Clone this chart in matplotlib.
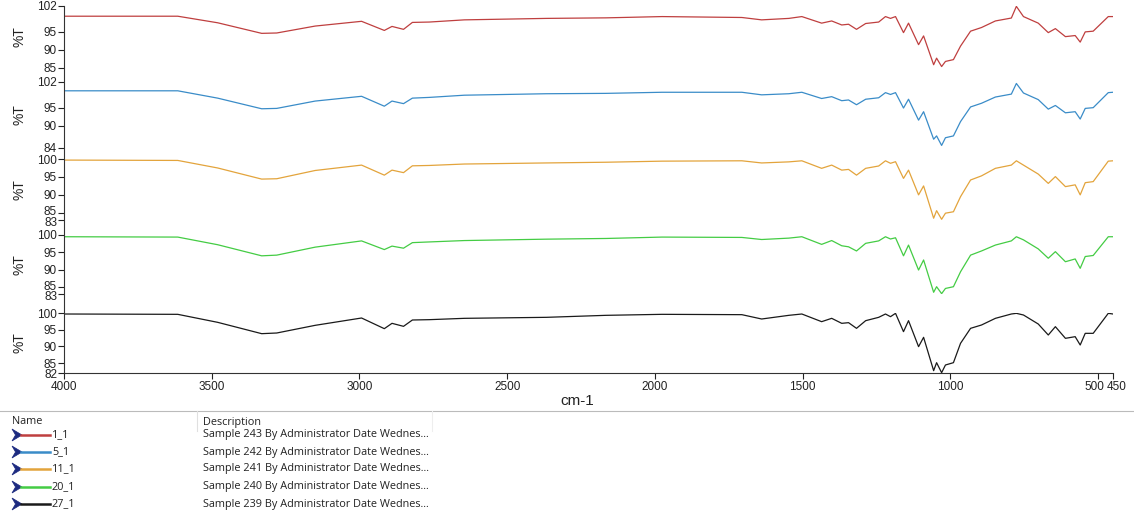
import matplotlib
matplotlib.use("Agg")
import matplotlib.pyplot as plt
from matplotlib.patches import Polygon
from matplotlib.lines import Line2D
import matplotlib.transforms as mtransforms

plt.rcParams['font.family'] = ['Liberation Sans', 'DejaVu Sans']

# ---------------- data ----------------
wavenumber = [4000, 3615, 3480, 3331, 3280, 3150, 2993, 2916, 2890, 2851, 2821, 2764,
              2645, 2368, 2166, 1976, 1706, 1639, 1547, 1503, 1436, 1402, 1368, 1345,
              1318, 1287, 1243, 1220, 1203, 1186, 1159, 1142, 1108, 1091, 1057, 1047,
              1030, 1017, 990, 966, 932, 895, 848, 794, 777, 753, 703, 669, 645, 611,
              578, 561, 544, 517, 466, 450]

t_1_1 = [99.2, 99.2, 97.4, 94.5, 94.6, 96.5, 97.8, 95.3, 96.4, 95.6, 97.5, 97.6,
         98.2, 98.6, 98.75, 99.1, 98.85, 98.2, 98.6, 99.1, 97.3, 97.9, 96.8, 97.0,
         95.6, 97.2, 97.6, 99.1, 98.6, 99.1, 94.7, 97.3, 91.4, 93.8, 85.9, 87.7,
         85.4, 86.8, 87.3, 91.0, 95.1, 96.1, 97.9, 98.7, 101.9, 99.1, 97.3, 94.7,
         95.8, 93.6, 93.9, 92.1, 94.9, 95.1, 99.1, 99.1]

t_5_1 = [99.6, 99.6, 97.6, 94.7, 94.8, 96.8, 98.1, 95.4, 96.8, 96.1, 97.6, 97.8,
         98.4, 98.8, 98.9, 99.2, 99.2, 98.5, 98.8, 99.2, 97.5, 98.0, 96.9, 97.1,
         95.8, 97.3, 97.7, 99.1, 98.6, 99.1, 94.9, 97.3, 91.6, 93.9, 86.4, 87.3,
         84.7, 86.8, 87.3, 91.2, 95.2, 96.2, 97.9, 98.7, 101.6, 99.0, 97.2, 94.6,
         95.6, 93.6, 93.9, 91.9, 94.8, 95.0, 99.1, 99.2]

t_11_1 = [99.7, 99.6, 97.5, 94.4, 94.5, 96.8, 98.3, 95.5, 96.9, 96.2, 98.1, 98.2,
          98.6, 98.9, 99.1, 99.4, 99.5, 98.9, 99.2, 99.5, 97.4, 98.3, 96.9, 97.1,
          95.5, 97.4, 98.05, 99.5, 98.8, 99.25, 94.6, 96.9, 90.0, 92.5, 83.5, 85.6,
          83.2, 84.9, 85.3, 89.5, 94.15, 95.3, 97.4, 98.3, 99.5, 98.3, 95.8, 93.2,
          95.1, 92.3, 92.8, 90.0, 93.4, 93.7, 99.4, 99.5]

t_20_1 = [99.5, 99.4, 97.2, 94.0, 94.2, 96.5, 98.3, 95.8, 96.8, 96.2, 97.8, 98.0,
          98.4, 98.8, 99.0, 99.4, 99.3, 98.7, 99.1, 99.5, 97.3, 98.4, 96.9, 96.6,
          95.4, 97.6, 98.3, 99.5, 98.85, 99.2, 94.0, 97.1, 89.9, 92.8, 83.5, 85.1,
          83.1, 84.6, 85.1, 89.4, 94.2, 95.4, 97.1, 98.3, 99.5, 98.6, 96.0, 93.3,
          95.2, 92.3, 93.1, 90.4, 93.8, 94.1, 99.5, 99.5]

t_27_1 = [99.7, 99.6, 97.2, 93.8, 94.0, 96.3, 98.5, 95.3, 96.9, 96.0, 97.9, 98.0,
          98.4, 98.7, 99.3, 99.6, 99.5, 98.2, 99.3, 99.7, 97.4, 98.4, 96.9, 97.1,
          95.4, 97.7, 98.7, 99.7, 98.9, 99.9, 94.4, 97.7, 89.9, 92.7, 82.7, 85.1,
          82.1, 84.4, 85.1, 90.9, 95.4, 96.4, 98.4, 99.7, 99.9, 99.4, 96.7, 93.4,
          95.9, 92.4, 92.9, 90.4, 93.9, 93.9, 99.9, 99.7]

names = ["1_1", "5_1", "11_1", "20_1", "27_1"]
descriptions = ["Sample 243 By Administrator Date Wednes...",
                "Sample 242 By Administrator Date Wednes...",
                "Sample 241 By Administrator Date Wednes...",
                "Sample 240 By Administrator Date Wednes...",
                "Sample 239 By Administrator Date Wednes..."]
series = [t_1_1, t_5_1, t_11_1, t_20_1, t_27_1]
y_ranges = [(85, 102), (84, 102), (83, 100), (83, 100), (82, 100)]
y_ticks = [[85, 90, 95, 102], [84, 90, 95, 102], [83, 85, 90, 95, 100],
           [83, 85, 90, 95, 100], [82, 85, 90, 95, 100]]
x_ticks = [4000, 3500, 3000, 2500, 2000, 1500, 1000, 500, 450]

colors = ['#bf3f3f', '#3a8cc8', '#e3a43c', '#44cc44', '#1a1a1a']

# ---------------- layout ----------------
W, H = 1134, 526
fig = plt.figure(figsize=(W / 100, H / 100), dpi=100)

def fx(px):
    return px / W

def fy(py):
    return 1 - py / H

def shift(dx_px, dy_px):
    return mtransforms.ScaledTranslation(dx_px / 100, dy_px / 100, fig.dpi_scale_trans)

x_left, x_right = 64, 1113
panel_px = [(6, 68), (82, 148), (159, 220), (235, 294), (313, 373)]

tick_color = '#222222'
for i, (top, bot) in enumerate(panel_px):
    ax = fig.add_axes([fx(x_left), fy(bot), fx(x_right - x_left), (bot - top) / H])
    ax.plot(wavenumber, series[i], color=colors[i], lw=0.9)
    ax.set_xlim(4000, 450)
    ax.set_ylim(*y_ranges[i])
    ax.set_yticks(y_ticks[i])
    ax.set_yticklabels([str(v) for v in y_ticks[i]])
    for s in ['top', 'right', 'left']:
        ax.spines[s].set_visible(False)
    ax.tick_params(axis='y', direction='out', length=4, width=0.8, colors=tick_color,
                   labelsize=8.5, pad=1)
    ax.patch.set_alpha(0)
    # nudge crowded bottom labels apart (83 / 85)
    if y_ticks[i][0] == 83:
        ylbls = ax.get_yticklabels()
        ylbls[0].set_transform(ylbls[0].get_transform() + shift(0, -2))
        ylbls[1].set_transform(ylbls[1].get_transform() + shift(0, 2))
    if i < 4:
        ax.spines['bottom'].set_visible(False)
        ax.set_xticks([])
    else:
        ax.spines['bottom'].set_color('#333333')
        ax.spines['bottom'].set_linewidth(0.8)
        ax.set_xticks(x_ticks)
        ax.set_xticklabels([str(v) for v in x_ticks])
        ax.tick_params(axis='x', direction='out', length=4, width=0.8, colors=tick_color,
                       labelsize=8.5, pad=2)
        lbls = ax.get_xticklabels()
        lbls[-2].set_transform(lbls[-2].get_transform() + shift(-4, 0))
        lbls[-1].set_transform(lbls[-1].get_transform() + shift(4, 0))
    ax.set_ylabel('%T', fontsize=10, color='#222222')
    ax.yaxis.set_label_coords(-0.036, 0.5)

# continuous left spine
fig.add_artist(Line2D([fx(x_left), fx(x_left)], [fy(6), fy(373)], color='#333333',
                      lw=0.8, transform=fig.transFigure))

fig.text(fx(577), fy(401), 'cm-1', fontsize=11, color='#222222', ha='center', va='center')

# ---------------- legend table ----------------
fig.add_artist(Line2D([0, 1], [fy(411), fy(411)], color='#bbbbbb', lw=0.8,
                      transform=fig.transFigure))
fig.add_artist(Line2D([fx(197), fx(197)], [fy(411), fy(431)], color='#e0e0e0', lw=0.8,
                      transform=fig.transFigure))
fig.add_artist(Line2D([fx(432), fx(432)], [fy(411), fy(431)], color='#eeeeee', lw=0.8,
                      transform=fig.transFigure))
tfont = ['Open Sans', 'DejaVu Sans']
fig.text(fx(12), fy(422), 'Name', fontsize=7.8, color='#222222', va='center', family=tfont)
fig.text(fx(203), fy(422), 'Description', fontsize=7.8, color='#222222', va='center',
         family=tfont)

row_y = [435, 452, 469, 487, 504]
for i, ry in enumerate(row_y):
    chev = Polygon([(fx(12), fy(ry - 6)), (fx(22), fy(ry)), (fx(12), fy(ry + 6)),
                    (fx(15.5), fy(ry))], closed=True, facecolor='#1c2a80',
                   edgecolor='#1c2a80', lw=0.5, transform=fig.transFigure)
    fig.add_artist(chev)
    fig.add_artist(Line2D([fx(21), fx(50)], [fy(ry), fy(ry)], color=colors[i], lw=1.8,
                          transform=fig.transFigure))
    fig.text(fx(52), fy(ry), names[i], fontsize=7.8, color='#222222', va='center',
             family=tfont)
    fig.text(fx(203), fy(ry), descriptions[i], fontsize=7.8, color='#222222', va='center',
             family=tfont)

fig.savefig('out.png', dpi=100)
